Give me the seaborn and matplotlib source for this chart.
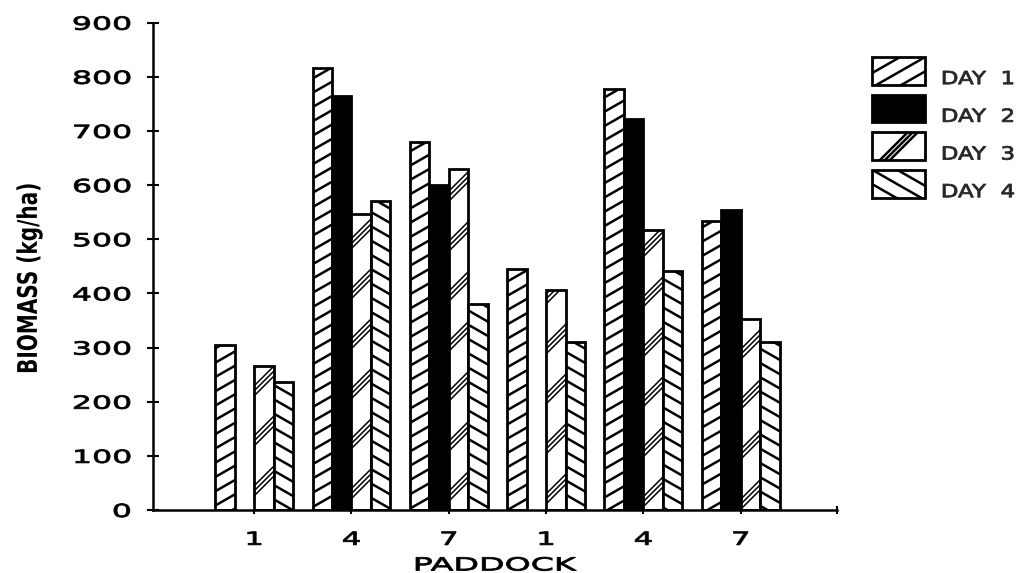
import warnings

import numpy as np
import pandas as pd
import matplotlib

matplotlib.use("Agg")
import matplotlib.pyplot as plt
import matplotlib.hatch as mhatch
from matplotlib.path import Path
from matplotlib.transforms import Affine2D
from matplotlib.patheffects import AbstractPathEffect
import seaborn as sns

warnings.simplefilter("ignore")

# ---------------------------------------------------------------- data
paddocks = ["1", "4", "7", "1", "4", "7"]
day_labels = ["DAY  1", "DAY  2", "DAY  3", "DAY  4"]
day1 = [305, 817, 679, 445, 778, 534]
day2 = [np.nan, 765, 600, np.nan, 722, 554]
day3 = [266, 547, 629, 406, 517, 352]
day4 = [237, 571, 381, 311, 442, 311]
y_ticks = [0, 100, 200, 300, 400, 500, 600, 700, 800, 900]

fills = ["white", "black", "white", "white"]
hatches = ["/", None, "x", "\\"]
hatch_widths = [1.8, 1.8, 1.1, 1.8]


# ---------------------------------------------------------------- hatching
class SlantHatch(mhatch.HatchPatternBase):
    """Slanted lines (optionally in tight bundles) tiled over one hatch cell."""
    symbol = "/"
    per_unit = 7
    rise = 4 / 7
    strands = (0.0,)

    def __init__(self, hatch, density):
        active = hatch is not None and self.symbol in hatch
        lo = -int(np.ceil(max(self.rise, 0) * self.per_unit)) - 1
        hi = self.per_unit + int(np.ceil(max(-self.rise, 0) * self.per_unit)) + 1
        self.bases = np.arange(lo, hi) / self.per_unit
        self.num_lines = len(self.bases) * len(self.strands) if active else 0
        self.num_vertices = 2 * self.num_lines

    def set_vertices_and_codes(self, vertices, codes):
        c = (self.bases[:, None] + np.asarray(self.strands)[None, :]).ravel()
        vertices[0::2, 0] = 0.0
        vertices[0::2, 1] = c
        vertices[1::2, 0] = 1.0
        vertices[1::2, 1] = c + self.rise
        codes[0::2] = Path.MOVETO
        codes[1::2] = Path.LINETO


class ShallowRising(SlantHatch):
    symbol, per_unit, rise, strands = "/", 7, 4 / 7, (0.0,)


class ShallowFalling(SlantHatch):
    symbol, per_unit, rise, strands = "\\", 7, -4 / 7, (0.0,)


class TripleRising(SlantHatch):
    symbol, per_unit, rise, strands = "x", 2, 1.0, (0.0, 0.05, 0.10)


mhatch._hatch_types[:] = [ShallowRising, ShallowFalling, TripleRising]


# ---------------------------------------------------------------- lettering
class WideGlyphs(AbstractPathEffect):
    """Draw text stretched along its baseline about a pivot fraction,
    optionally shifted down and thickened with an outline."""

    def __init__(self, sx, pivot=0.5, drop=0.0, bold=0.0):
        super().__init__()
        self._sx, self._pivot, self._drop, self._bold = sx, pivot, drop, bold

    def draw_path(self, renderer, gc, tpath, affine, rgbFace=None):
        verts = tpath.vertices
        if tpath.codes is not None:
            verts = verts[tpath.codes != Path.CLOSEPOLY]
        if len(verts):
            x0, x1 = verts[:, 0].min(), verts[:, 0].max()
        else:
            x0 = x1 = 0.0
        p = x0 + self._pivot * (x1 - x0)
        local = Affine2D().translate(-p, 0).scale(self._sx, 1).translate(p, 0)
        shift = Affine2D().translate(0, -renderer.points_to_pixels(self._drop))
        trans = local + affine + shift
        if self._bold > 0 and rgbFace is not None:
            gc2 = renderer.new_gc()
            gc2.copy_properties(gc)
            gc2.set_linewidth(self._bold)
            gc2.set_foreground(rgbFace)
            gc2.set_joinstyle("round")
            renderer.draw_path(gc2, tpath, trans, rgbFace)
            gc2.restore()
        else:
            renderer.draw_path(gc, tpath, trans, rgbFace)


# ---------------------------------------------------------------- figure
sns.set_theme(style="white")
plt.rcParams["font.family"] = ["DejaVu Sans"]
plt.rcParams["hatch.linewidth"] = 1.8
plt.rcParams["hatch.color"] = "black"

fig = plt.figure(figsize=(10.3, 5.73), dpi=100)
ax = fig.add_axes([153 / 1030, 63 / 573, 684 / 1030, 487.3 / 573])

df = pd.DataFrame({
    "group": np.tile(np.arange(len(paddocks)), len(day_labels)),
    "day": np.repeat(day_labels, len(paddocks)),
    "biomass": np.concatenate([day1, day2, day3, day4]),
})

sns.barplot(
    data=df, x="group", y="biomass", hue="day", hue_order=day_labels,
    palette=dict(zip(day_labels, fills)), saturation=1, width=0.8,
    edgecolor="black", linewidth=2.0, errorbar=None, legend=False, ax=ax,
)

for container, hatch, hlw in zip(ax.containers, hatches, hatch_widths):
    for bar in container:
        bar.set_hatch(hatch)
        bar.set_edgecolor("black")
        if hasattr(bar, "set_hatch_linewidth"):
            bar.set_hatch_linewidth(hlw)

ax.set_xlim(-1.04, 5.99)
ax.set_ylim(0, 900)

for side in ("top", "right"):
    ax.spines[side].set_visible(False)
for side in ("left", "bottom"):
    ax.spines[side].set_linewidth(1.8)
    ax.spines[side].set_color("black")

ax.set_yticks(y_ticks)
ax.set_yticklabels([str(v) for v in y_ticks])
ax.set_xticks(range(len(paddocks)))
ax.set_xticklabels(paddocks)
ax.set_xticks([5.99], minor=True)

ax.tick_params(axis="y", left=True, direction="inout", length=8, width=1.5,
               pad=12, labelsize=13, colors="black")
ax.tick_params(axis="x", which="major", bottom=True, direction="out", length=3,
               width=1.5, pad=12, labelsize=13, colors="black")
ax.tick_params(axis="x", which="minor", bottom=True, direction="inout",
               length=6, width=1.5, colors="black")

for lab in ax.get_yticklabels():
    lab.set_path_effects([WideGlyphs(1.75, pivot=1.0, bold=0.6)])
for lab in ax.get_xticklabels():
    lab.set_path_effects([WideGlyphs(1.7, pivot=0.5, bold=0.6)])

ax.set_xlabel("PADDOCK", fontsize=13, color="black")
ax.xaxis.set_label_coords(0.5, -0.0954)
ax.xaxis.label.set_path_effects([WideGlyphs(1.84, pivot=0.5, bold=0.6)])

ax.set_ylabel("BIOMASS (kg/ha)", fontsize=19.5, color="black", va="center",
              fontweight="bold")
ax.yaxis.set_label_coords(-0.18, 0.476)
ax.yaxis.label.set_path_effects([WideGlyphs(0.74, pivot=0.5)])

leg_fs = 13
leg_px = leg_fs * 100 / 72
box_h, box_w, row_step = 27.5, 53.0, 37.7
leg = fig.legend(
    handles=ax.containers, labels=day_labels, loc="upper left",
    bbox_to_anchor=(872 / 1030, 1 - 57 / 573), bbox_transform=fig.transFigure,
    frameon=False, borderpad=0, borderaxespad=0, fontsize=leg_fs,
    handlelength=box_w / leg_px,
    handleheight=(box_h / leg_px - 0.245) / 0.65,
    handletextpad=0.9,
    labelspacing=(row_step - box_h) / leg_px,
)
for txt in leg.get_texts():
    txt.set_path_effects([WideGlyphs(1.27, pivot=0.0, drop=5.5, bold=0.6)])

fig.savefig("out.png", dpi=100, facecolor="white")
